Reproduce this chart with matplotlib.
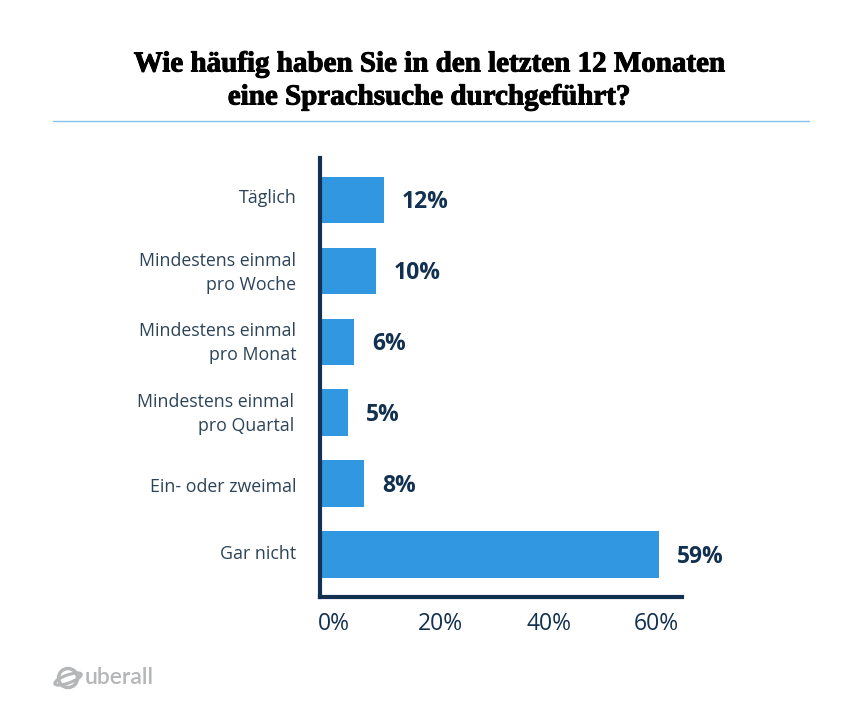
import matplotlib
matplotlib.use("Agg")
import matplotlib.pyplot as plt
import matplotlib.patheffects as pe
from matplotlib.patches import Ellipse, Circle
from matplotlib.transforms import ScaledTranslation

# data
categories = ["Täglich", "Mindestens einmal\npro Woche", "Mindestens einmal\npro Monat",
              "Mindestens einmal\npro Quartal", "Ein- oder zweimal", "Gar nicht"]
values = [12, 10, 6, 5, 8, 59]
# bar lengths, they do not quite match the printed values
bar_lengths = [11.3, 9.9, 6.0, 5.0, 7.8, 60]
tick_pos = [2.5, 21.4, 40.5, 59.5]
tick_labels = ["0%", "20%", "40%", "60%"]
title_lines = ["Wie häufig haben Sie in den letzten 12 Monaten", "eine Sprachsuche durchgeführt?"]

plt.rcParams["font.family"] = ["Open Sans", "DejaVu Sans"]
navy = "#12304f"
blue = "#3097e0"
grey = "#b4b6b8"

fig = plt.figure(figsize=(8.64, 7.2), dpi=100)
W, H = 864, 720
ax = fig.add_axes([320 / W, 1 - 597 / H, (682 - 320) / W, (597 - 158) / H])

ypos = list(range(len(categories)))
ax.barh(ypos, bar_lengths, height=0.656, color=blue)
ax.set_ylim(5.6, -0.592)
ax.set_xlim(0, 64.1)

for s in ["top", "right"]:
    ax.spines[s].set_visible(False)
for s in ["left", "bottom"]:
    ax.spines[s].set_linewidth(3)
    ax.spines[s].set_color(navy)

ax.set_yticks(ypos)
ax.set_yticklabels(categories, fontsize=12.8, color="#2c4358", ha="right", linespacing=1.45)
ax.tick_params(axis="y", length=0, pad=17)
ax.set_xticks(tick_pos)
ax.set_xticklabels(tick_labels, fontsize=16.5, color=navy)
ax.tick_params(axis="x", length=0, pad=11)

# labels are not quite centred on the bars in the original
label_shift = [(0, 4), (0, 3), (0, 4), (-2, 4), (0, -1), (0, 2)]
for lab, (dx, dy) in zip(ax.get_yticklabels(), label_shift):
    lab.set_transform(lab.get_transform() + ScaledTranslation(dx / 100, dy / 100, fig.dpi_scale_trans))

for y, b, v in zip(ypos, bar_lengths, values):
    ax.text(b + 3.2, y + 0.035, f"{v}%", va="center", ha="left", fontsize=16.5,
            fontweight="bold", color=navy)

# title
for line, ty in zip(title_lines, [64, 97]):
    fig.text(429 / W, 1 - ty / H, line, ha="center", va="center", fontsize=20.9,
             fontweight="bold", color="black", family="Liberation Serif",
             path_effects=[pe.withStroke(linewidth=0.7, foreground="black")])
fig.add_artist(plt.Line2D([53 / W, 809 / W], [1 - 121 / H, 1 - 121 / H], color="#84c2ea", lw=1))

# logo
fig.text(85 / W, 1 - 678 / H, "uberall", ha="left", va="center", fontsize=16.5,
         fontweight="semibold", color=grey, family="Lato")
logo = fig.add_axes([52 / W, 1 - 692 / H, 32 / W, 28 / H])
logo.set_xlim(0, 32)
logo.set_ylim(0, 28)
logo.axis("off")
logo.add_patch(Circle((16, 14), 9.5, fill=False, ec=grey, lw=2.5))
logo.add_patch(Ellipse((16, 13), 28, 8, angle=20, fill=False, ec=grey, lw=2.2))

fig.savefig("out.png", dpi=100)
